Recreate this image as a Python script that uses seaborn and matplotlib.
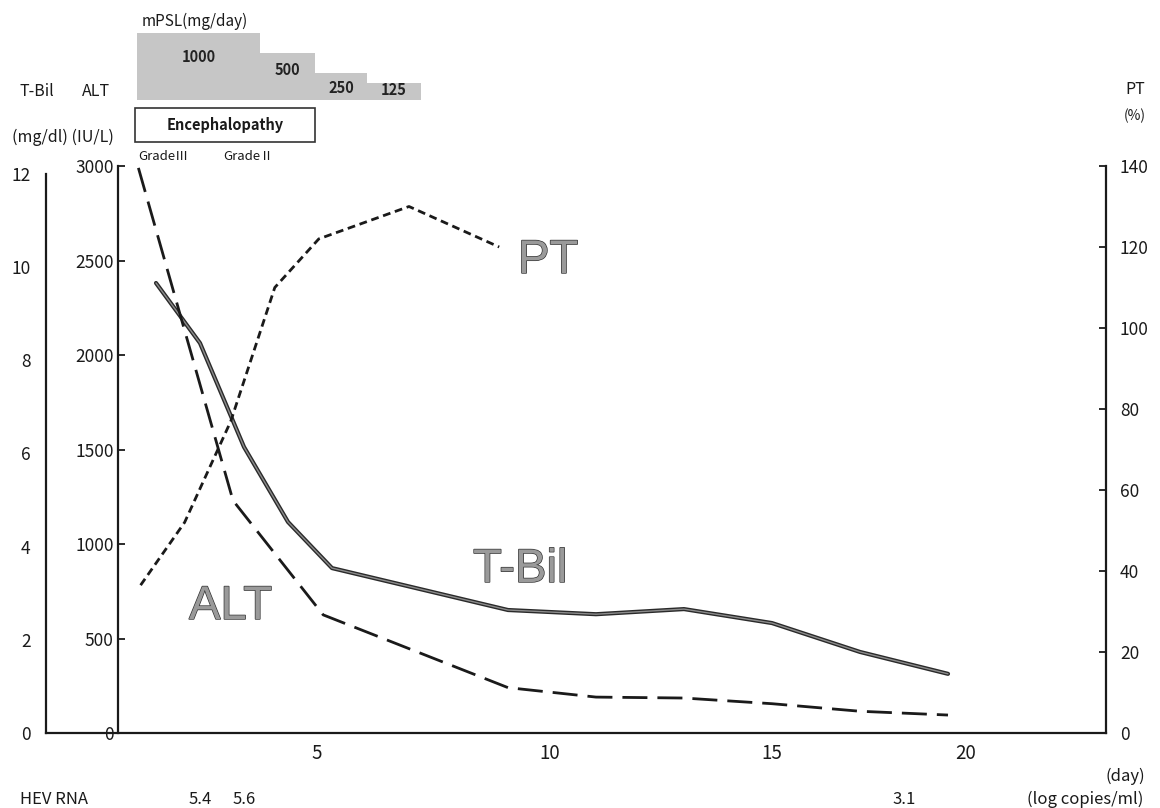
import matplotlib
matplotlib.use('Agg')
import matplotlib.pyplot as plt
import matplotlib.patheffects as pe
import matplotlib.transforms as mtransforms
from matplotlib.patches import Rectangle
import seaborn as sns

# values (x = day)
tbil_day = [1, 2, 3, 4, 5, 9, 11, 13, 15, 17, 19]
tbil = [9.66, 8.37, 6.14, 4.53, 3.54, 2.64, 2.55, 2.66, 2.36, 1.74, 1.27]

alt_day = [0.6, 2.75, 4.8, 9, 11, 13, 15, 17, 19]
alt = [2990, 1230, 625, 240, 190, 185, 155, 115, 95]

pt_day = [0.65, 1.65, 2.7, 3.7, 4.7, 6.75, 8.8]
pt = [36.5, 52, 77, 110, 122, 130, 120]

mpsl_dose = ['1000', '500', '250', '125']
mpsl_start = [0.57, 3.36, 4.61, 5.80]
mpsl_end = [3.36, 4.61, 5.80, 7.02]

enceph_start, enceph_end = 0.52, 4.61
grade_day = [0.6, 2.52]
grade_label = ['GradeⅢ', 'GradeⅡ']

hev_day = [2, 3, 18]
hev_rna = ['5.4', '5.6', '3.1']

day_labels = ['5', '10', '15', '20']
tbil_ticks = [0, 2, 4, 6, 8, 10, 12]
alt_ticks = [0, 500, 1000, 1500, 2000, 2500, 3000]
pt_ticks = [0, 20, 40, 60, 80, 100, 120, 140]

# layout (pixels of the 1160x808 picture)
W, H = 1160, 808
DAY0_PX, PX_PER_DAY = 112, 44
X_AXIS_PX, TOP_PX, RIGHT_PX = 733, 166, 1106
day_tick_px = [317, 550, 772, 966]
mpsl_height = [1.0, 0.70, 0.40, 0.25]
mpsl_text_y = [0.64, 0.45, 0.18, 0.15]


def fx(p):
    return p / W


def fy(p):
    return 1 - p / H


def day_at(p):
    return (p - DAY0_PX) / PX_PER_DAY


sns.set_theme(style='white')
plt.rcParams['font.family'] = ['Noto Sans CJK JP', 'DejaVu Sans']

ink = '#1a1a1a'
fig = plt.figure(figsize=(W / 100, H / 100), dpi=100)
ax_h = (X_AXIS_PX - TOP_PX) / H

# T-Bil axis (outer left), ALT axis (inner left), PT axis (right)
ax_tb = fig.add_axes([fx(46), fy(X_AXIS_PX), (RIGHT_PX - 46) / W, ax_h])
ax = fig.add_axes([fx(118), fy(X_AXIS_PX), (RIGHT_PX - 118) / W, ax_h])
ax_pt = ax.twinx()
ax.patch.set_visible(False)

ax_tb.set_xlim(day_at(46), day_at(RIGHT_PX))
ax.set_xlim(day_at(118), day_at(RIGHT_PX))
ax_tb.set_ylim(0, 12 * (X_AXIS_PX - TOP_PX) / (X_AXIS_PX - 174))
ax.set_ylim(0, 3000)
ax_pt.set_ylim(0, 140)

sns.lineplot(x=tbil_day, y=tbil, ax=ax_tb, color='#8c8c8c', linewidth=1.0, sort=False)
ax_tb.lines[-1].set_path_effects([pe.Stroke(linewidth=3.0, foreground='#2a2a2a'), pe.Normal()])
sns.lineplot(x=alt_day, y=alt, ax=ax, color=ink, linewidth=2.0, sort=False,
             linestyle=(0, (9, 3.6)))
sns.lineplot(x=pt_day, y=pt, ax=ax_pt, color=ink, linewidth=2.0, sort=False,
             linestyle=(0, (2.8, 1.7)))

for a in (ax_tb, ax, ax_pt):
    for s in a.spines.values():
        s.set_visible(False)
        s.set_linewidth(1.6)
        s.set_color(ink)
ax_tb.spines['left'].set_visible(True)
ax_tb.spines['left'].set_bounds(0, 12)
ax_tb.spines['bottom'].set_visible(True)
ax.spines['left'].set_visible(True)
ax_pt.spines['right'].set_visible(True)

tick_kw = dict(direction='in', length=5, width=1.3, color=ink, labelsize=12.5, labelcolor=ink)
ax_tb.set_xticks([])
ax_tb.set_yticks(tbil_ticks)
ax_tb.tick_params(axis='y', pad=11, **tick_kw)
ax.set_yticks(alt_ticks)
ax.tick_params(axis='y', pad=3, **tick_kw)
ax_pt.set_yticks(pt_ticks)
ax_pt.tick_params(axis='y', pad=10, **tick_kw)
ax.set_xticks([day_at(p) for p in day_tick_px], labels=day_labels)
ax.tick_params(axis='x', length=0, pad=7, labelsize=13.5, labelcolor=ink)
for a in (ax_tb, ax, ax_pt):
    a.set_xlabel('')
    a.set_ylabel('')

# mPSL pulse blocks
ax_top = fig.add_axes([fx(118), fy(100), (RIGHT_PX - 118) / W, (100 - 33) / H])
ax_top.set_xlim(ax.get_xlim())
ax_top.set_ylim(0, 1)
ax_top.axis('off')
widths = [e - s for s, e in zip(mpsl_start, mpsl_end)]
ax_top.bar(mpsl_start, mpsl_height, width=widths, align='edge', color='#c6c6c6', linewidth=0)
for s, w, lab, ty in zip(mpsl_start, widths, mpsl_dose, mpsl_text_y):
    ax_top.text(s + w / 2, ty, lab, ha='center', va='center', fontsize=10.5,
                fontweight='bold', color='#222222')

# encephalopathy box and grades
blend = mtransforms.blended_transform_factory(ax.transData, fig.transFigure)
fig.add_artist(Rectangle((enceph_start, fy(142)), enceph_end - enceph_start, (142 - 108) / H,
                         transform=blend, fill=False, edgecolor='#333333', linewidth=1.2))
fig.text((enceph_start + enceph_end) / 2, fy(125), 'Encephalopathy', transform=blend,
         ha='center', va='center', fontsize=10.5, fontweight='bold', color=ink)
for d, g in zip(grade_day, grade_label):
    fig.text(d, fy(157), g, transform=blend, ha='left', va='center', fontsize=9.5, color=ink)

# HEV RNA row
for d, v in zip(hev_day, hev_rna):
    fig.text(d, fy(799), v, transform=blend, ha='center', va='center', fontsize=12, color=ink)

# header and side texts
fig.text(fx(142), fy(21), 'mPSL(mg/day)', ha='left', va='center', fontsize=11, color=ink)
fig.text(fx(20), fy(91), 'T-Bil', ha='left', va='center', fontsize=11.5, color=ink)
fig.text(fx(82), fy(91), 'ALT', ha='left', va='center', fontsize=11.5, color=ink)
fig.text(fx(12), fy(137), '(mg/dl) (IU/L)', ha='left', va='center', fontsize=11.5, color=ink)
fig.text(fx(1135), fy(89), 'PT', ha='center', va='center', fontsize=11.5, color=ink)
fig.text(fx(1135), fy(116), '(%)', ha='center', va='center', fontsize=10, color=ink)
fig.text(fx(1125), fy(776), '(day)', ha='center', va='center', fontsize=12, color=ink)
fig.text(fx(1085), fy(799), '(log copies/ml)', ha='center', va='center', fontsize=12, color=ink)
fig.text(fx(20), fy(799), 'HEV RNA', ha='left', va='center', fontsize=12, color=ink)

# large series labels
big = dict(fontsize=34, family='Liberation Sans', color='#9a9a9a', va='baseline', ha='left',
           path_effects=[pe.Stroke(linewidth=1.0, foreground='#333333'), pe.Normal()])
fig.text(fx(518), fy(273), 'PT', **big)
fig.text(fx(473), fy(582), 'T-Bil', **big)
fig.text(fx(189), fy(619), 'ALT', **big)

fig.savefig('out.png', dpi=100, facecolor='white')
